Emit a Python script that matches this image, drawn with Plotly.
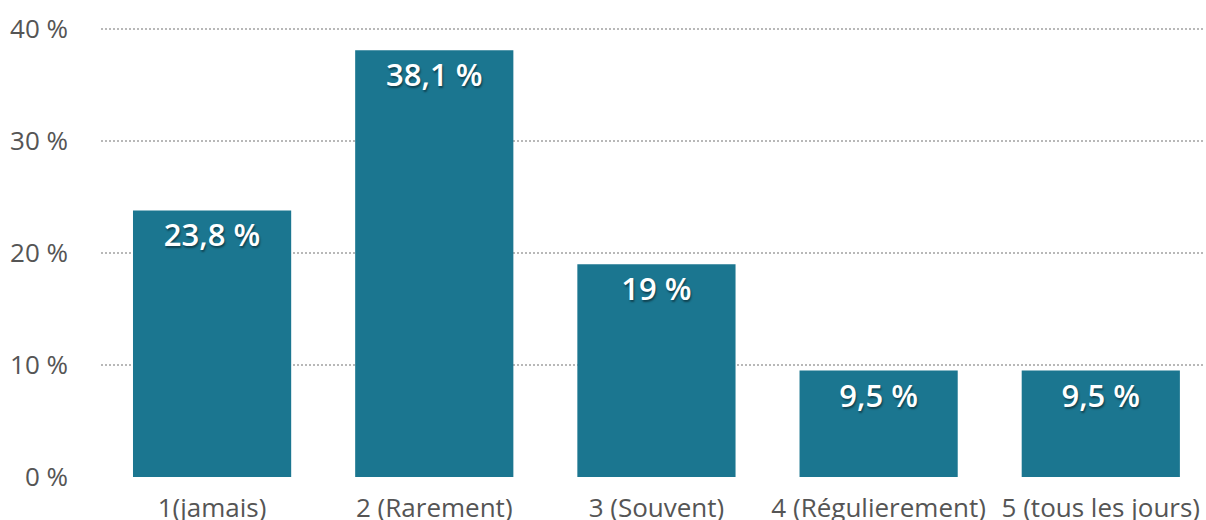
import plotly.graph_objects as go

categories = ["1(jamais)", "2 (Rarement)", "3 (Souvent)", "4 (Régulierement)", "5 (tous les jours)"]
values = [23.8, 38.1, 19.0, 9.5, 9.5]
tick_vals = [0, 10, 20, 30, 40]
tick_text = ["0 %", "10 %", "20 %", "30 %", "40 %"]


def fmt(v):
    s = f"{v:.1f}"
    if s.endswith(".0"):
        s = s[:-2]
    return s.replace(".", ",") + " %"


labels = [fmt(v) for v in values]

fig = go.Figure(
    go.Bar(
        x=categories,
        y=values,
        text=labels,
        textposition="inside",
        insidetextanchor="end",
        textangle=0,
        texttemplate="%{text}",
        marker=dict(color="#1b7690", line=dict(width=0)),
        textfont=dict(family="Open Sans", size=31, color="white", weight=600,
                      shadow="1px 2px 2px rgba(0,0,0,0.45)"),
        cliponaxis=False,
    )
)

fig.update_layout(
    width=1206,
    height=520,
    margin=dict(l=101, r=3, t=10, b=40),
    paper_bgcolor="white",
    plot_bgcolor="white",
    bargap=0.288,
    showlegend=False,
    font=dict(family="Open Sans", size=26, color="#555555"),
    uniformtext=dict(minsize=8),
)
fig.update_xaxes(
    range=[-0.5, 4.46],
    showgrid=False,
    showline=False,
    ticks="",
    automargin=False,
    tickfont=dict(family="Open Sans", size=26, color="#555555"),
    ticklabelstandoff=10,
)
fig.update_yaxes(
    range=[-0.27, 41.7],
    tickvals=tick_vals,
    ticktext=tick_text,
    showgrid=True,
    gridcolor="#b8b8b8",
    griddash="2px,2px",
    gridwidth=1.5,
    zeroline=True,
    zerolinecolor="white",
    zerolinewidth=3,
    showline=False,
    ticks="",
    automargin=False,
    tickfont=dict(family="Open Sans", size=26, color="#555555"),
    ticklabelstandoff=32,
)

fig.write_html(
    "out.html",
    config={"displayModeBar": False},
    post_script="document.body.style.margin='0';document.body.style.overflow='hidden';",
)
